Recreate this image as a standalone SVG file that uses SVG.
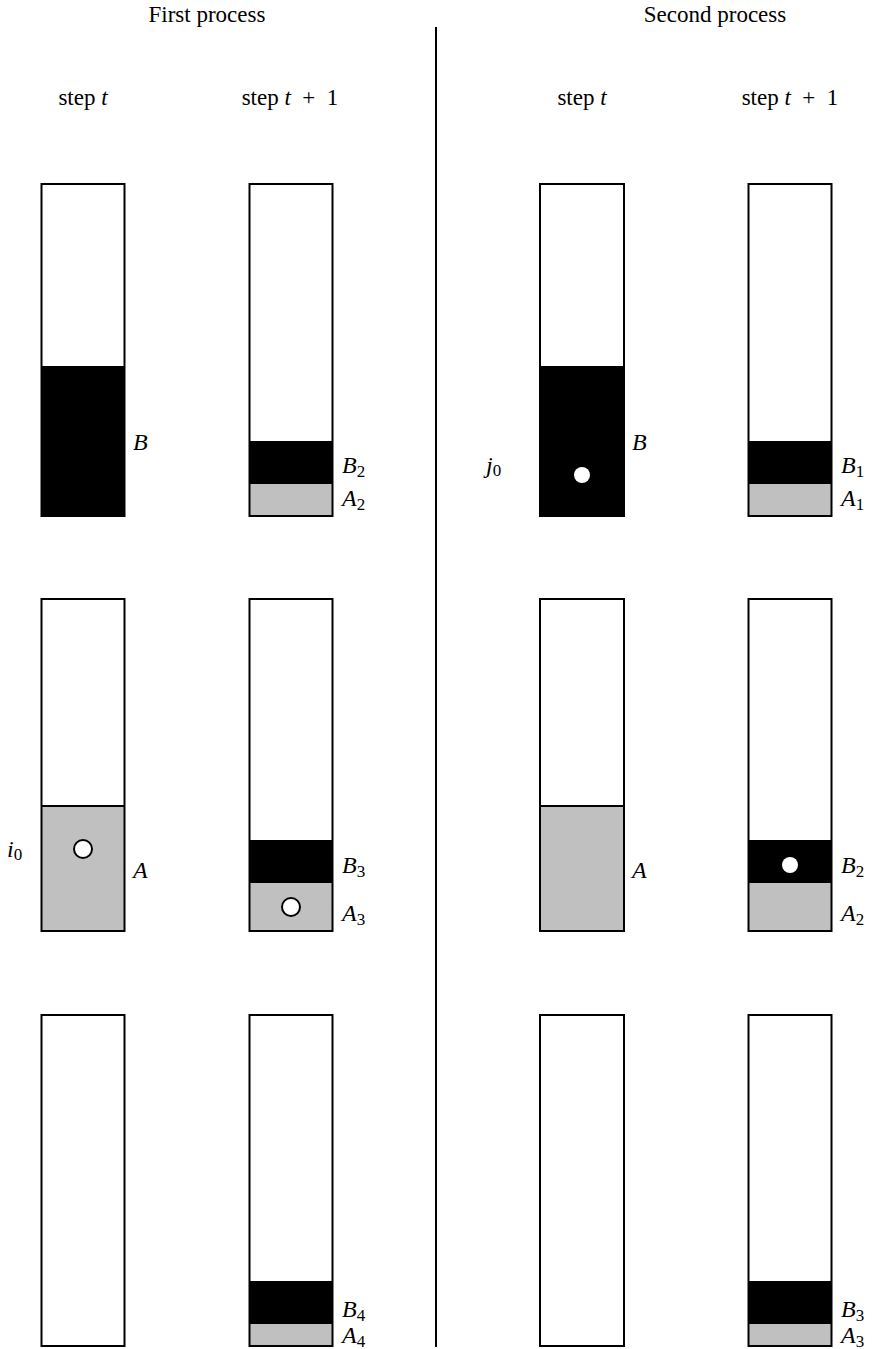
<svg xmlns="http://www.w3.org/2000/svg" width="880" height="1349" viewBox="0 0 880 1349">
<style>
text{font-family:"Liberation Serif","Times New Roman",serif;fill:#000}
.t{font-size:23px}
.m{font-size:24px;font-style:italic}
.sub{font-size:17px;font-style:normal}
.i{font-style:italic}
.box{fill:none;stroke:#000;stroke-width:2}
.blk{fill:#000}
.gry{fill:#c0c0c0}
.wd{fill:#fff;stroke:#000;stroke-width:2}
.bd{fill:#fff}
</style>
<rect width="880" height="1349" fill="#fff"/>
<g id="headers">
<text class="t" x="207" y="22" text-anchor="middle">First process</text>
<text class="t" x="715" y="22" text-anchor="middle">Second process</text>
<text class="t" x="83" y="105" text-anchor="middle">step <tspan class="i">t</tspan></text>
<text class="t" x="290" y="105" text-anchor="middle" xml:space="preserve">step <tspan class="i">t</tspan>  +  1</text>
<text class="t" x="582" y="105" text-anchor="middle">step <tspan class="i">t</tspan></text>
<text class="t" x="790" y="105" text-anchor="middle" xml:space="preserve">step <tspan class="i">t</tspan>  +  1</text>
</g>
<g id="connectors">
<line x1="436" y1="27" x2="436" y2="1347" stroke="#000" stroke-width="2"/>
</g>
<!-- First process -->
<g id="p1-t-r1">
<rect class="blk" x="41.5" y="366" width="83" height="150"/>
<rect class="box" x="41.5" y="184" width="83" height="332"/>
<text class="m" x="133" y="450">B</text>
</g>
<g id="p1-t1-r1">
<rect class="blk" x="249.5" y="441" width="83" height="43"/>
<rect class="gry" x="249.5" y="484" width="83" height="32"/>
<rect class="box" x="249.5" y="184" width="83" height="332"/>
<text class="m" x="342" y="473">B<tspan class="sub" dy="4">2</tspan></text>
<text class="m" x="342" y="506">A<tspan class="sub" dy="4">2</tspan></text>
</g>
<g id="p1-t-r2">
<rect class="gry" x="41.5" y="806" width="83" height="125"/>
<line x1="41.5" y1="806" x2="124.5" y2="806" stroke="#000" stroke-width="2"/>
<rect class="box" x="41.5" y="599" width="83" height="332"/>
<circle class="wd" cx="83" cy="849" r="9"/>
<text class="m" x="7" y="857">i<tspan class="sub" dy="3">0</tspan></text>
<text class="m" x="133" y="878">A</text>
</g>
<g id="p1-t1-r2">
<rect class="blk" x="249.5" y="840" width="83" height="43"/>
<rect class="gry" x="249.5" y="883" width="83" height="48"/>
<rect class="box" x="249.5" y="599" width="83" height="332"/>
<circle class="wd" cx="291" cy="907" r="9"/>
<text class="m" x="342" y="873">B<tspan class="sub" dy="4">3</tspan></text>
<text class="m" x="342" y="921">A<tspan class="sub" dy="4">3</tspan></text>
</g>
<g id="p1-t-r3">
<rect class="box" x="41.5" y="1015" width="83" height="331"/>
</g>
<g id="p1-t1-r3">
<rect class="blk" x="249.5" y="1281" width="83" height="43"/>
<rect class="gry" x="249.5" y="1324" width="83" height="22"/>
<rect class="box" x="249.5" y="1015" width="83" height="331"/>
<text class="m" x="342" y="1317">B<tspan class="sub" dy="4">4</tspan></text>
<text class="m" x="342" y="1343">A<tspan class="sub" dy="4">4</tspan></text>
</g>
<!-- Second process -->
<g id="p2-t-r1">
<rect class="blk" x="540" y="366" width="84" height="150"/>
<rect class="box" x="540" y="184" width="84" height="332"/>
<circle class="bd" cx="582" cy="475" r="8"/>
<text class="m" x="632" y="450">B</text>
<text class="m" x="486" y="473">j<tspan class="sub" dy="3">0</tspan></text>
</g>
<g id="p2-t1-r1">
<rect class="blk" x="748.5" y="441" width="83" height="43"/>
<rect class="gry" x="748.5" y="484" width="83" height="32"/>
<rect class="box" x="748.5" y="184" width="83" height="332"/>
<text class="m" x="841" y="473">B<tspan class="sub" dy="4">1</tspan></text>
<text class="m" x="841" y="506">A<tspan class="sub" dy="4">1</tspan></text>
</g>
<g id="p2-t-r2">
<rect class="gry" x="540" y="806" width="84" height="125"/>
<line x1="540" y1="806" x2="624" y2="806" stroke="#000" stroke-width="2"/>
<rect class="box" x="540" y="599" width="84" height="332"/>
<text class="m" x="632" y="878">A</text>
</g>
<g id="p2-t1-r2">
<rect class="blk" x="748.5" y="840" width="83" height="43"/>
<rect class="gry" x="748.5" y="883" width="83" height="48"/>
<rect class="box" x="748.5" y="599" width="83" height="332"/>
<circle class="bd" cx="790" cy="865" r="8"/>
<text class="m" x="841" y="873">B<tspan class="sub" dy="4">2</tspan></text>
<text class="m" x="841" y="921">A<tspan class="sub" dy="4">2</tspan></text>
</g>
<g id="p2-t-r3">
<rect class="box" x="540" y="1015" width="84" height="331"/>
</g>
<g id="p2-t1-r3">
<rect class="blk" x="748.5" y="1281" width="83" height="43"/>
<rect class="gry" x="748.5" y="1324" width="83" height="22"/>
<rect class="box" x="748.5" y="1015" width="83" height="331"/>
<text class="m" x="841" y="1317">B<tspan class="sub" dy="4">3</tspan></text>
<text class="m" x="841" y="1343">A<tspan class="sub" dy="4">3</tspan></text>
</g>
</svg>
